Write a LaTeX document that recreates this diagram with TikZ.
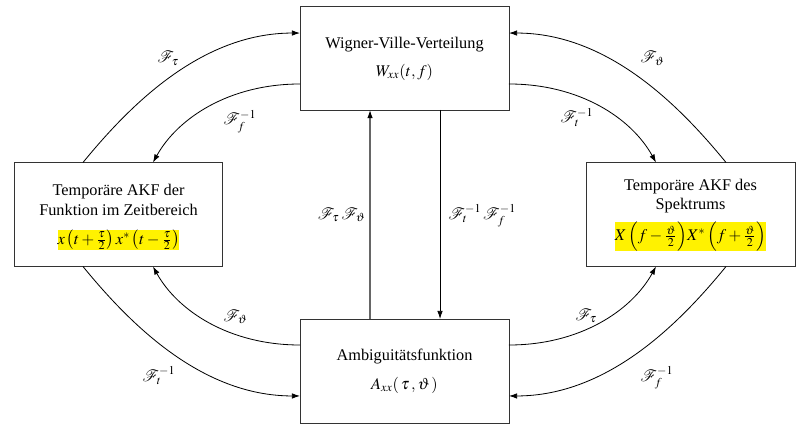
\documentclass[tikz,border=0pt]{standalone}
\usepackage{mathptmx}
\usepackage{fontspec}
\setmainfont{Liberation Serif}
\usetikzlibrary{arrows.meta,calc}
\begin{document}
\begin{tikzpicture}[x=0.6135pt,y=-0.6135pt,
  box/.style={draw=black!80,line width=0.6pt,inner sep=0pt,outer sep=0pt,
    minimum width=128.2pt,minimum height=63.8pt},
  txt/.style={inner sep=0pt,anchor=base,font=\fontsize{10}{12}\selectfont},
  lab/.style={inner sep=0pt,anchor=base west,font=\fontsize{10}{12}\selectfont},
  conn/.style={line width=0.5pt,-{Latex[length=5pt,width=3.4pt,color=black]}},
  hl/.style={fill=yellow,draw=none,inner sep=0pt}]
\useasboundingbox (0,0) rectangle (806,433);
% boxes
\node[box] (T) at (404.5,58) {};
\node[box] (L) at (118.5,214.5) {};
\node[box] (R) at (690.5,214.5) {};
\node[box] (B) at (404.5,371) {};
% texts
\node[txt] (T1) at (404.5,48.5) {Wigner-Ville-Verteilung};
\node[txt] (T2) at (404.5,76.5) {$W_{xx}(t,f)$};
\node[txt] (B1) at (404.5,360.5) {Ambiguitätsfunktion};
\node[txt] (B2) at (404.5,389) {$A_{xx}(\,\tau\,,\vartheta\,)$};
\node[txt] (L1) at (118.5,195) {Temporäre AKF der};
\node[txt] (L2) at (118.5,215) {Funktion im Zeitbereich};
\node[txt] (L3) at (118.5,244) {\setlength{\fboxsep}{0pt}\colorbox{yellow}{$x\left(t+\frac{\tau}{2}\right)x^{*}\left(t-\frac{\tau}{2}\right)$}};
\node[txt] (R1) at (690.5,190) {Temporäre AKF des};
\node[txt] (R2) at (690.5,209.5) {Spektrums};
\node[txt] (R3) at (690.5,240.5) {\setlength{\fboxsep}{0pt}\colorbox{yellow}{$X\,\Bigl(f-\frac{\vartheta}{2}\Bigr)X^{*}\,\Bigl(f+\frac{\vartheta}{2}\Bigr)$}};
% anchor points
\coordinate (Tl1) at ($(T.north west)!0.26!(T.south west)$);
\coordinate (Tl2) at ($(T.north west)!0.75!(T.south west)$);
\coordinate (Tr1) at ($(T.north east)!0.26!(T.south east)$);
\coordinate (Tr2) at ($(T.north east)!0.75!(T.south east)$);
\coordinate (Bl1) at ($(B.north west)!0.25!(B.south west)$);
\coordinate (Bl2) at ($(B.north west)!0.74!(B.south west)$);
\coordinate (Br1) at ($(B.north east)!0.25!(B.south east)$);
\coordinate (Br2) at ($(B.north east)!0.74!(B.south east)$);
\coordinate (Lt1) at ($(L.north west)!0.33!(L.north east)$);
\coordinate (Lt2) at ($(L.north west)!0.665!(L.north east)$);
\coordinate (Lb1) at ($(L.south west)!0.33!(L.south east)$);
\coordinate (Lb2) at ($(L.south west)!0.665!(L.south east)$);
\coordinate (Rt1) at ($(R.north west)!0.335!(R.north east)$);
\coordinate (Rt2) at ($(R.north west)!0.67!(R.north east)$);
\coordinate (Rb1) at ($(R.south west)!0.335!(R.south east)$);
\coordinate (Rb2) at ($(R.south west)!0.67!(R.south east)$);
\coordinate (Ts1) at ($(T.south west)!0.335!(T.south east)$);
\coordinate (Ts2) at ($(T.south west)!0.67!(T.south east)$);
\coordinate (Bn1) at ($(B.north west)!0.335!(B.north east)$);
\coordinate (Bn2) at ($(B.north west)!0.67!(B.north east)$);
% curved connectors
\draw[conn] (Lt1) .. controls +(45,-55) and +(-100,0) .. (Tl1);
\draw[conn] (Tl2) .. controls +(-70,0) and +(25,-45) .. (Lt2);
\draw[conn] (Rt2) .. controls +(-45,-55) and +(100,0) .. (Tr1);
\draw[conn] (Tr2) .. controls +(70,0) and +(-25,-45) .. (Rt1);
\draw[conn] (Lb1) .. controls +(45,55) and +(-100,0) .. (Bl2);
\draw[conn] (Bl1) .. controls +(-70,0) and +(25,45) .. (Lb2);
\draw[conn] (Br1) .. controls +(70,0) and +(-25,45) .. (Rb1);
\draw[conn] (Rb2) .. controls +(-45,55) and +(100,0) .. (Br2);
% vertical connectors
\draw[conn,draw=black!60,line width=0.7pt] (Bn1) -- (Ts1);
\draw[conn] (Ts2) -- (Bn2);
% labels
\node[lab] (a1) at (157,63) {$\mathcal{F}_{\tau}$};
\node[lab] (a2) at (223,125) {$\mathcal{F}_{f}^{-1}$};
\node[lab] (a3) at (640,63) {$\mathcal{F}_{\vartheta}$};
\node[lab] (a4) at (560,123) {$\mathcal{F}_{t}^{-1}$};
\node[lab,anchor=base east] (a5) at (366,219) {$\mathcal{F}_{\tau}\,\mathcal{F}_{\vartheta}$};
\node[lab] (a6) at (448,219) {$\mathcal{F}_{t}^{-1}\,\mathcal{F}_{f}^{-1}$};
\node[lab] (a7) at (223,321) {$\mathcal{F}_{\vartheta}$};
\node[lab] (a8) at (142,381) {$\mathcal{F}_{t}^{-1}$};
\node[lab] (a9) at (575,320) {$\mathcal{F}_{\tau}$};
\node[lab] (a10) at (640,381) {$\mathcal{F}_{f}^{-1}$};
\end{tikzpicture}
\end{document}
